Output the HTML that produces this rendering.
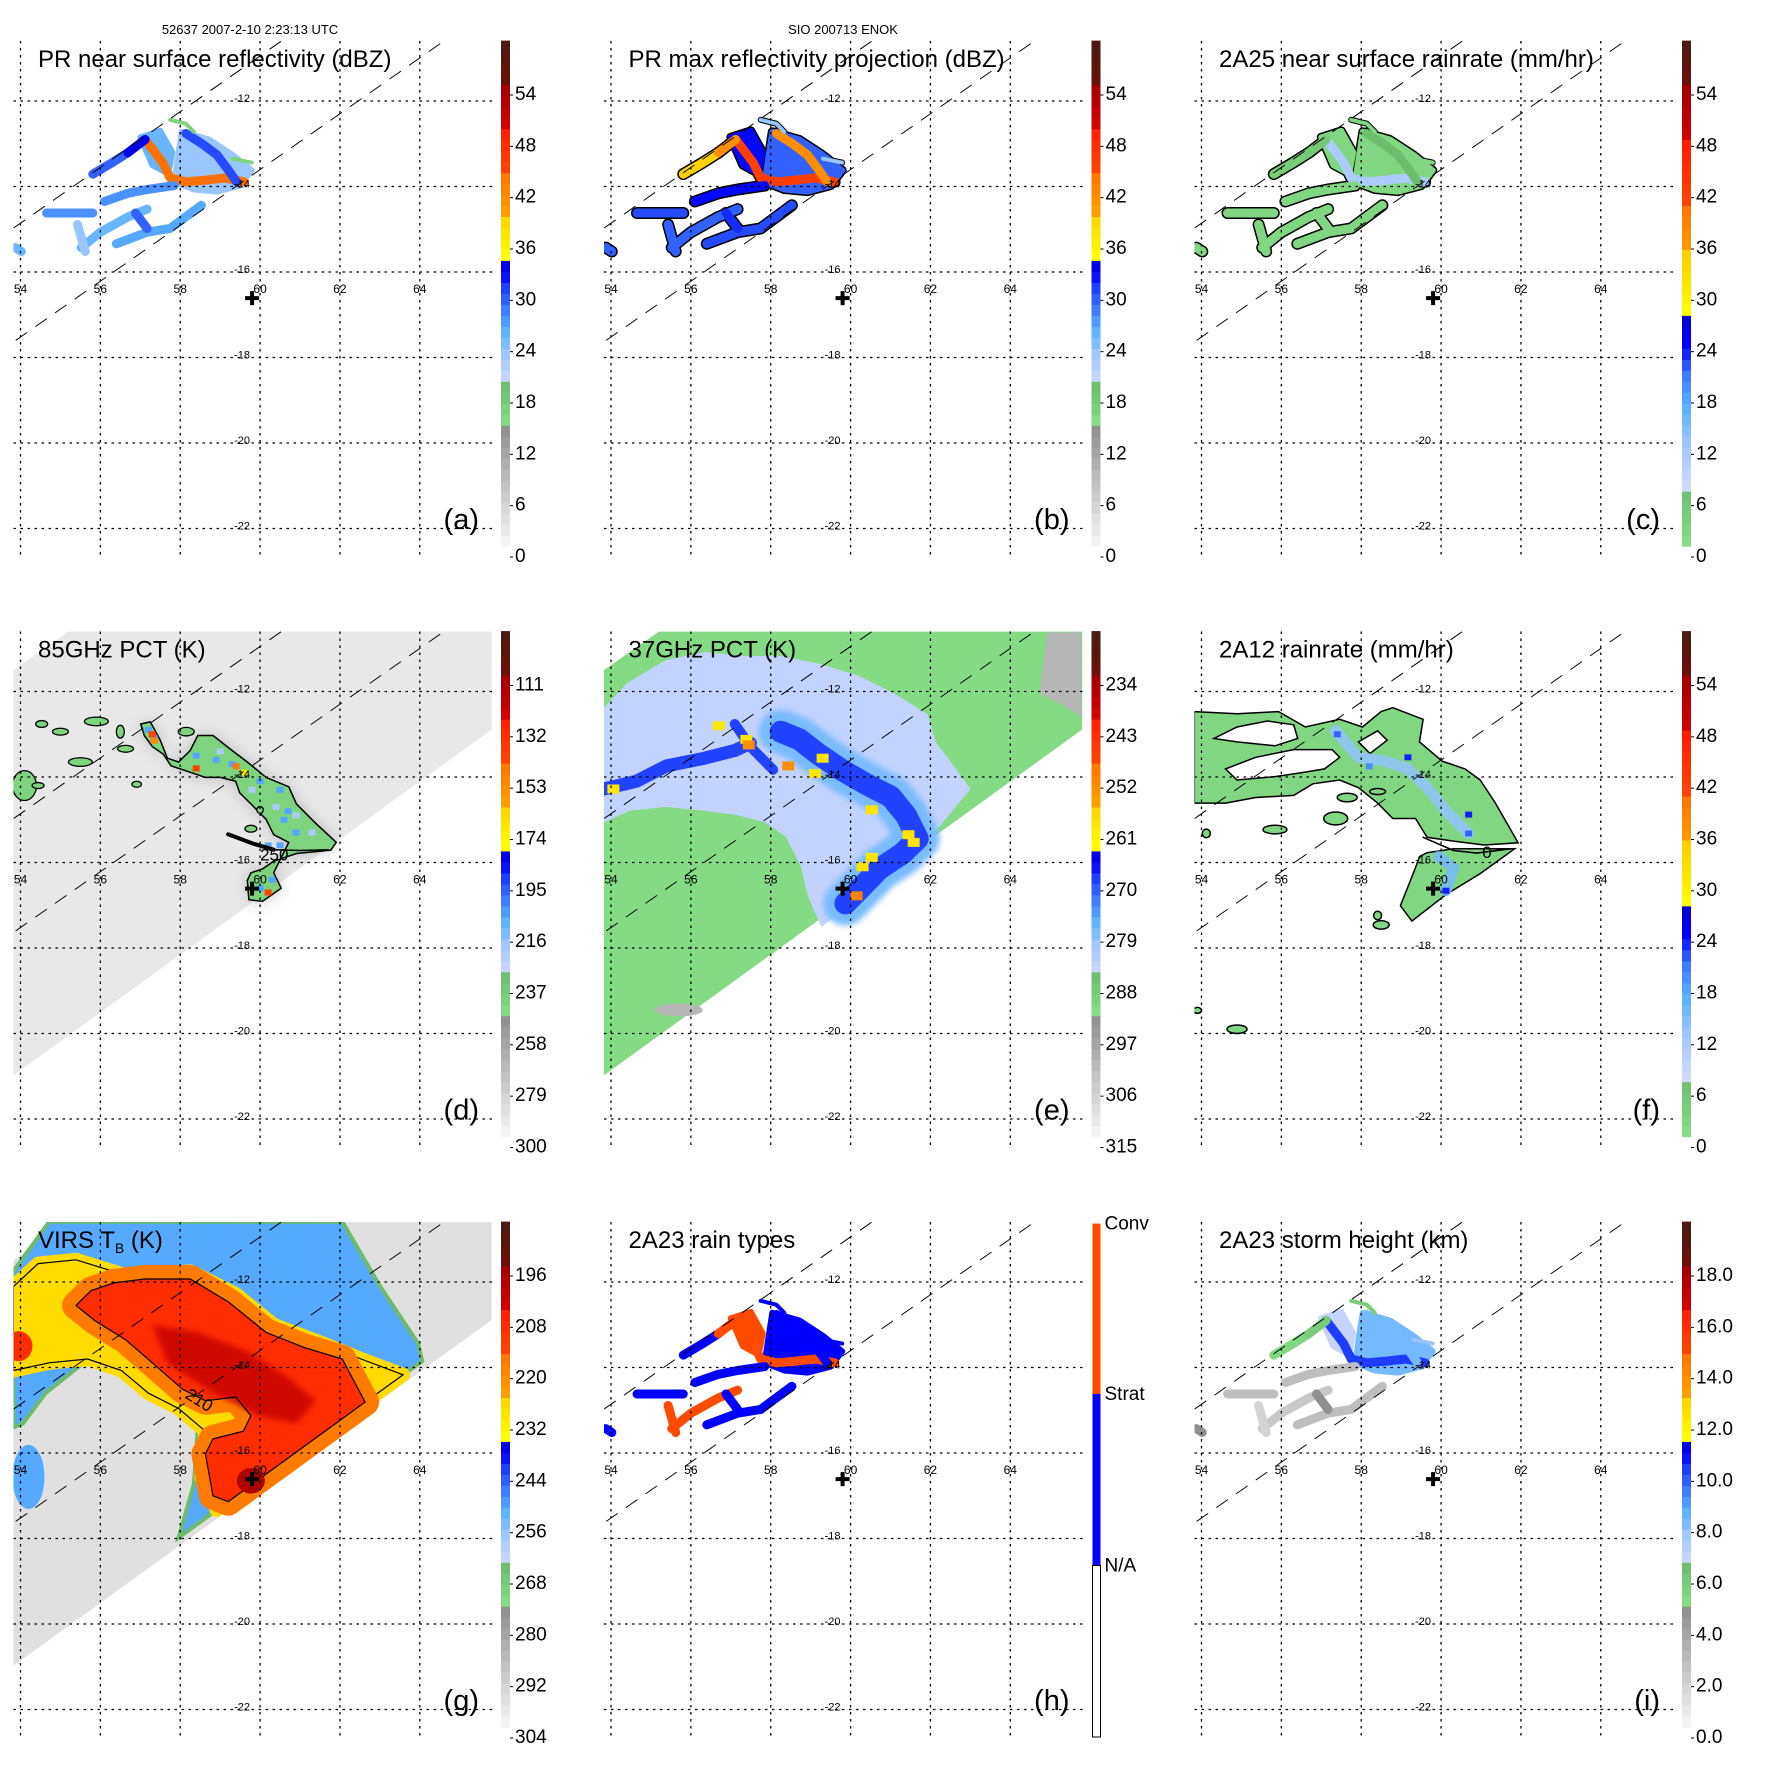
<!DOCTYPE html>
<html>
<head>
<meta charset="utf-8">
<style>
html,body{margin:0;padding:0;background:#fff;}
svg{display:block;font-family:"Liberation Sans",Arial,sans-serif;}
</style>
</head>
<body>
<svg id="fig" width="1771" height="1771" viewBox="0 0 1771 1771" xmlns="http://www.w3.org/2000/svg">
<defs>
<filter id="blur8" x="-20%" y="-20%" width="140%" height="140%"><feGaussianBlur stdDeviation="8"/></filter>
<filter id="blur3" x="-20%" y="-20%" width="140%" height="140%"><feGaussianBlur stdDeviation="3"/></filter>
</defs>
<rect width="1771" height="1771" fill="#fff"/>
<text x="250" y="34" font-size="13" text-anchor="middle">52637 2007-2-10 2:23:13 UTC</text>
<text x="843" y="34" font-size="13" text-anchor="middle">SIO 200713 ENOK</text>
</svg>
<script>
// ---------------- data ----------------
const gridLons=[54,56,58,60,62,64];
const gridLats=[-12,-14,-16,-18,-20,-22];
const swathLine1=[[53.83,-14.97],[60.53,-10.6]];
const swathLine2=[[53.88,-17.6],[64.6,-10.6]];
const stormCenter=[59.8,-16.61];

const labA=['54','48','42','36','30','24','18','12','6','0'];
const labB=['54','48','42','36','30','24','18','12','6','0'];
const labC=['54','48','42','36','30','24','18','12','6','0'];
const labD=['111','132','153','174','195','216','237','258','279','300'];
const labE=['234','243','252','261','270','279','288','297','306','315'];
const labF=['54','48','42','36','30','24','18','12','6','0'];
const labG=['196','208','220','232','244','256','268','280','292','304'];
const labI=['18.0','16.0','14.0','12.0','10.0','8.0','6.0','4.0','2.0','0.0'];
const rainTypeLabels=['Conv','Strat','N/A'];

// PR swath features (lon,lat)
const prTracks=[
 [[57.12,-12.90],[57.56,-13.44],[57.75,-13.80],[58.14,-13.89],[58.63,-13.85],[59.11,-13.80],[59.60,-13.89]],
 [[58.14,-12.76],[58.53,-12.99],[58.92,-13.26],[59.21,-13.62],[59.41,-13.89]],
 [[55.81,-13.71],[56.30,-13.44],[56.69,-13.21]],
 [[56.69,-13.21],[57.12,-12.90]],
 [[56.10,-14.35],[56.69,-14.16],[57.17,-14.07],[57.85,-13.98]],
 [[54.65,-14.62],[55.13,-14.62],[55.81,-14.62]],
 [[55.52,-15.43],[56.0,-15.07],[56.69,-14.71],[57.17,-14.53]],
 [[56.40,-15.34],[57.17,-15.07],[57.75,-14.98],[58.53,-14.44]],
 [[55.43,-14.89],[55.62,-15.52]],
 [[56.88,-14.62],[57.17,-14.98]],
 [[53.87,-15.43],[54.02,-15.52]],
 [[57.75,-12.44],[58.14,-12.53],[58.34,-12.72]],
 [[59.31,-13.35],[59.79,-13.44]]
];
const prCells=[
 [[58.04,-12.72],[58.72,-12.90],[59.31,-13.26],[59.79,-13.62],[59.50,-13.98],[58.92,-14.12],[58.34,-14.07],[57.85,-13.89],[57.95,-13.26]],
 [[57.0,-12.85],[57.5,-12.7],[57.8,-13.2],[57.7,-13.7],[57.3,-13.5]]
];
const aTrackVals=[45,31,30,34,28,28,26,27,24,30,26,17,17];
const aCellVals=[24,26];
const bTrackVals=[46,42,40,42,33,31,30,31,30,32,30,24,24];
const bCellVals=[30,33];
const cTrackVals=[12,8,5,6,3,3,3,3,3,3,3,3,3];
const cCellVals=[3,3];
const hTrackTypes=[2,1,1,2,1,1,2,1,2,1,1,1,1];
const hCellTypes=[1,2];
const iTrackVals=[10.5,8.5,5.5,6,3,3,2.5,3,2,5,5,6,8];
const iCellVals=[8.5,7];

// TMI swath outline
const tmiSwath=[[53.82,-11.5],[55.2,-10.6],[65.8,-10.6],[65.8,-12.89],[53.82,-20.98]];

// panel d: 85 GHz
const dSwathVal=288;
const dArc=[[57.01,-12.76],[57.25,-12.71],[57.49,-13.12],[57.68,-13.56],[57.96,-13.65],[58.25,-13.38],[58.44,-13.03],[58.82,-13.03],[59.30,-13.38],[59.68,-13.65],[60.15,-14.01],[60.72,-14.23],[60.91,-14.63],[61.39,-15.08],[61.91,-15.53],[61.77,-15.71],[60.91,-15.79],[60.34,-15.97],[60.06,-16.15],[59.77,-16.24],[59.68,-16.42],[59.72,-16.87],[60.06,-16.91],[60.53,-16.60],[60.34,-16.24],[60.53,-15.88],[60.72,-15.53],[60.34,-15.35],[60.15,-14.99],[59.77,-14.63],[59.49,-14.37],[59.39,-14.10],[59.01,-14.01],[58.63,-14.01],[58.06,-13.83],[57.77,-13.74],[57.58,-13.47],[57.30,-13.29],[57.10,-13.03]];
const dArcVal=240;
const dIslands=[[54.1,-14.2,0.3,0.35],[55.9,-12.7,0.3,0.1],[54.53,-12.76,0.15,0.08],[55.0,-12.94,0.2,0.08],[55.5,-13.65,0.3,0.1],[56.5,-12.94,0.1,0.15],[56.63,-13.34,0.2,0.08],[56.91,-14.17,0.12,0.07],[58.15,-12.94,0.2,0.1],[59.77,-15.21,0.15,0.08],[60.0,-14.77,0.08,0.08],[54.44,-14.2,0.15,0.07]];
const dIslandVal=240;
const dSpots=[[57.2,-12.9,205],[57.35,-13.1,205],[58.4,-13.5,205],[58.9,-13.6,205],[59.3,-13.7,205],[60.0,-14.1,205],[60.5,-14.3,205],[60.7,-14.8,205],[60.6,-15.0,205],[60.9,-15.3,205],[61.3,-15.3,220],[60.2,-15.6,205],[60.5,-15.6,205],[60.3,-16.4,205],[60.0,-16.6,205],[57.3,-13.0,140],[57.35,-13.15,150],[58.4,-13.8,140],[59.4,-13.75,145],[60.2,-16.7,140],[59.6,-13.9,170],[59.0,-13.4,220],[59.8,-14.3,220],[60.4,-14.7,220],[60.9,-14.9,220]];
const dLine=[[59.2,-15.34],[59.8,-15.55],[60.34,-15.7],[61.0,-15.72],[61.7,-15.7]];

// panel e: 37 GHz
const eSwathVal=291;
const eLight=[[53.82,-12.49],[54.44,-11.87],[55.39,-11.33],[56.34,-11.15],[57.30,-11.24],[58.25,-11.24],[59.20,-11.42],[60.15,-11.69],[61.10,-12.13],[61.87,-12.58],[62.06,-13.21],[62.63,-13.92],[62.91,-14.28],[61.87,-15.44],[59.30,-17.40],[59.01,-16.78],[58.82,-16.06],[58.44,-15.35],[57.87,-14.99],[57.10,-14.81],[56.34,-14.72],[55.39,-14.63],[54.44,-14.72],[53.82,-14.99]];
const eLightVal=283;
const eMainBand=[[58.25,-12.94],[58.72,-13.12],[59.20,-13.47],[59.77,-13.83],[60.44,-14.19],[61.01,-14.46],[61.39,-14.90],[61.68,-15.44],[61.30,-15.79],[60.72,-16.15],[60.25,-16.60],[59.87,-16.96]];
const eLeftBand=[[53.82,-14.28],[54.63,-14.10],[55.39,-13.74],[56.34,-13.56],[57.10,-13.38],[57.49,-13.21]];
const eLinkBand=[[57.10,-12.76],[57.5,-13.3],[58.06,-13.83]];
const eBandVals=[277,268];
const eSpots=[[57.39,-13.12,258],[57.45,-13.25,252],[58.44,-13.74,252],[59.11,-13.92,258],[59.30,-13.56,258],[60.53,-14.77,258],[61.58,-15.53,258],[61.45,-15.35,258],[60.53,-15.88,258],[60.3,-16.1,258],[54.06,-14.28,258],[60.15,-16.78,250],[56.7,-12.8,258]];
const eGray=[[64.92,-10.62],[65.78,-10.62],[65.78,-12.58],[65.3,-12.31],[64.73,-12.04]];
const eGrayBlob=[55.7,-19.45];
const eGrayVal=300;

// panel f: 2A12
const fRain=[[53.82,-12.47],[54.89,-12.52],[55.93,-12.47],[56.60,-12.83],[57.46,-12.65],[58.03,-12.83],[58.50,-12.47],[58.79,-12.38],[59.55,-12.65],[59.46,-13.18],[60.03,-13.63],[60.60,-13.81],[60.98,-14.07],[61.36,-14.61],[61.74,-15.23],[61.93,-15.54],[61.08,-15.59],[60.31,-15.50],[59.65,-15.41],[59.36,-14.97],[58.79,-14.97],[58.41,-14.61],[57.93,-14.25],[57.46,-14.07],[56.79,-14.16],[56.31,-14.43],[55.36,-14.48],[54.60,-14.61],[53.82,-14.61]];
const fArm=[[59.65,-15.77],[60.31,-15.68],[61.84,-15.68],[60.98,-16.26],[60.12,-16.75],[59.27,-17.37],[58.98,-17.01],[59.17,-16.57],[59.36,-16.12],[59.46,-15.86]];
const fHoles=[
 [[54.60,-13.81],[55.36,-13.54],[56.31,-13.36],[57.27,-13.36],[57.46,-13.54],[57.08,-13.81],[56.50,-13.90],[55.84,-13.99],[54.89,-14.07]],
 [[54.89,-12.83],[55.65,-12.69],[56.31,-12.78],[56.41,-13.10],[55.84,-13.27],[54.89,-13.18],[54.31,-13.10]],
 [[57.93,-13.18],[58.41,-12.92],[58.65,-13.14],[58.22,-13.45]]
];
const fRainVal=3;
const fIslands=[[54.12,-15.32,0.1,0.1],[55.84,-15.23,0.3,0.1],[57.36,-14.97,0.3,0.15],[57.65,-14.48,0.25,0.1],[58.41,-14.34,0.2,0.07],[58.50,-17.46,0.2,0.1],[58.41,-17.24,0.1,0.1],[54.89,-19.9,0.25,0.1],[53.9,-19.46,0.1,0.07]];
const fBlueTracks=[
 [[57.36,-12.92],[57.93,-13.54],[58.60,-13.63],[59.17,-13.81],[59.65,-14.25],[60.12,-14.79],[60.69,-15.32]],
 [[59.93,-15.86],[60.31,-16.12],[60.12,-16.66]]
];
const fBlueVals=[14,16];
const fSpots=[[59.17,-13.54,24],[60.69,-14.88,24],[60.69,-15.32,22],[60.12,-16.66,24],[57.4,-13.0,22],[58.2,-13.75,20]];
const fZeroLine=[[59.55,-15.41],[60.31,-15.72],[60.89,-15.78],[61.74,-15.68]];

// panel g: VIRS
const gSwathVal=295;
const gBlue=[[53.82,-11.75],[54.72,-10.59],[62.06,-10.59],[63.01,-12.11],[63.96,-13.44],[64.06,-13.85],[57.96,-17.98],[58.34,-16.74],[58.44,-15.40],[57.58,-14.24],[56.63,-13.80],[55.58,-13.89],[54.63,-14.60],[54.06,-15.31],[53.82,-15.40]];
const gBlueBlob=[54.2,-16.56];
const gYellow=[[53.82,-12.11],[54.44,-11.57],[55.39,-11.48],[56.63,-11.84],[58.25,-11.75],[59.39,-12.28],[60.34,-13.00],[61.58,-13.44],[62.53,-13.80],[63.58,-14.17],[58.91,-17.33],[58.53,-16.56],[58.63,-15.49],[57.96,-14.96],[57.20,-14.60],[56.53,-14.07],[55.68,-13.80],[54.72,-13.89],[53.82,-14.07]];
const gRed=[[56.34,-12.02],[57.10,-11.93],[58.25,-11.93],[59.20,-12.46],[60.15,-13.18],[61.10,-13.53],[62.06,-13.80],[62.63,-14.81],[59.20,-17.14],[58.82,-17.00],[58.63,-16.02],[58.82,-15.67],[59.58,-15.49],[59.77,-15.13],[59.39,-14.69],[58.63,-14.78],[58.06,-14.51],[57.30,-13.89],[56.63,-13.35],[55.87,-12.91],[55.39,-12.55],[55.77,-12.20]];
const gCore=[[57.30,-13.00],[58.44,-13.18],[59.68,-13.62],[60.72,-14.24],[61.39,-14.78],[60.91,-15.31],[59.96,-15.13],[58.82,-14.60],[57.68,-13.89]];
const gEye=[59.77,-16.65];
const gRedBlob=[53.95,-13.5];
const gVals=[250,226,216,208,200,196];

// ---------------- layout / styles ----------------
const NS='http://www.w3.org/2000/svg';
const svg=document.getElementById('fig');
const PITCH=590.5;
const CB_TOP=40.6, CB_BOT=546, CB_X=501, CB_W=9;
const LBL_Y0=95, LBL_Y1=557;
function X(lon){return 20.5+(lon-54)*39.93;}
function Y(lat){return 101+(-12-lat)*42.75;}
function pts(arr){return arr.map(p=>X(p[0]).toFixed(1)+','+Y(p[1]).toFixed(1)).join(' ');}

const STOPS_DBZ=[[0,'#f8f8f8'],[0.237,'#8e8e8e'],[0.238,'#88e088'],[0.321,'#6cbc6c'],[0.322,'#d0d8ff'],[0.38,'#a0c8ff'],[0.43,'#58b0ff'],[0.47,'#4078ff'],[0.51,'#2040ff'],[0.54,'#0000ff'],[0.574,'#0000c8'],[0.575,'#ffff00'],[0.658,'#ffd000'],[0.659,'#ffa000'],[0.743,'#ff7000'],[0.744,'#ff4400'],[0.827,'#ff1c00'],[0.828,'#d80000'],[0.915,'#a00000'],[0.916,'#6a1008'],[1,'#4a1a14']];
const STOPS_RAIN=[[0,'#88e088'],[0.118,'#6cbc6c'],[0.119,'#d0d8ff'],[0.2,'#a0c8ff'],[0.28,'#58b0ff'],[0.34,'#4078ff'],[0.4,'#0000ff'],[0.458,'#0000c8'],[0.459,'#ffff00'],[0.577,'#ffd000'],[0.578,'#ffa000'],[0.678,'#ff7000'],[0.679,'#ff4400'],[0.795,'#ff1c00'],[0.796,'#d80000'],[0.916,'#a00000'],[0.917,'#6a1008'],[1,'#4a1a14']];
const TYPE_COLORS={1:'#0000ff',2:'#ff4a00'};

function hex(c){return [parseInt(c.substr(1,2),16),parseInt(c.substr(3,2),16),parseInt(c.substr(5,2),16)];}
function colorAt(stops,f){
  f=Math.max(0,Math.min(1,f));
  for(let i=0;i<stops.length-1;i++){
    const a=stops[i],b=stops[i+1];
    if(f>=a[0]&&f<=b[0]){
      const t=b[0]===a[0]?0:(f-a[0])/(b[0]-a[0]);
      const ca=hex(a[1]),cb=hex(b[1]);
      return 'rgb('+ca.map((v,k)=>Math.round(v+(cb[k]-v)*t)).join(',')+')';
    }
  }
  return stops[stops.length-1][1];
}
function valColor(p,v){
  const a=parseFloat(p.labels[0]),b=parseFloat(p.labels[p.labels.length-1]);
  const y=LBL_Y0+(v-a)/(b-a)*(LBL_Y1-LBL_Y0);
  return colorAt(p.stops,(CB_BOT-y)/(CB_BOT-CB_TOP));
}
function mk(tag,parent){const e=document.createElementNS(NS,tag);parent.appendChild(e);return e;}
function sa(e,o){for(const k in o)e.setAttribute(k,o[k]);return e;}

// ---------------- drawing helpers ----------------
function drawPR(g,p,trackVals,cellVals,outline,colorFn){
  if(outline){
    prCells.forEach((c,i)=>{
      const e=mk('polygon',g);
      
      
      sa(e,{points:pts(c),fill:'none',stroke:'#000','stroke-width':9,'stroke-linejoin':'round'});
    });
    prTracks.forEach((t,i)=>{
      const e=mk('polyline',g);
      
      
      sa(e,{points:pts(t),fill:'none',stroke:'#000','stroke-width':i>=11?6:12,'stroke-linecap':'round','stroke-linejoin':'round'});
    });
  }
  prCells.forEach((c,i)=>{
    const e=mk('polygon',g);
    
    
    sa(e,{points:pts(c),fill:colorFn(cellVals[i]),stroke:colorFn(cellVals[i]),'stroke-width':6,'stroke-linejoin':'round'});
  });
  prTracks.forEach((t,i)=>{
    const e=mk('polyline',g);
    
    
    sa(e,{points:pts(t),fill:'none',stroke:colorFn(trackVals[i]),'stroke-width':i>=11?4:9,'stroke-linecap':'round','stroke-linejoin':'round'});
  });
}
function poly(g,arr,fill,name,extra){
  const e=mk('polygon',g);
  
  
  sa(e,Object.assign({points:pts(arr),fill:fill},extra||{}));
  return e;
}
function line(g,arr,stroke,w,name,extra){
  const e=mk('polyline',g);
  
  
  sa(e,Object.assign({points:pts(arr),fill:'none',stroke:stroke,'stroke-width':w,'stroke-linecap':'round','stroke-linejoin':'round'},extra||{}));
  return e;
}
function ell(g,c,rx,ry,fill,name,extra){
  const e=mk('ellipse',g);
  
  
  sa(e,Object.assign({cx:X(c[0]),cy:Y(c[1]),rx:rx*39.93,ry:ry*42.75,fill:fill},extra||{}));
  return e;
}
function spot(g,s,fill,w,h){
  const e=mk('rect',g);
  
  
  sa(e,{x:X(s[0])-w/2,y:Y(s[1])-h/2,width:w,height:h,fill:fill});
}

// ---------------- panel content ----------------
const drawers={
 a:(g,p)=>drawPR(g,p,aTrackVals,aCellVals,false,v=>valColor(p,v)),
 b:(g,p)=>drawPR(g,p,bTrackVals,bCellVals,true,v=>valColor(p,v)),
 c:(g,p)=>drawPR(g,p,cTrackVals,cCellVals,true,v=>valColor(p,v)),
 h:(g,p)=>drawPR(g,p,hTrackTypes,hCellTypes,false,v=>TYPE_COLORS[v]),
 i:(g,p)=>drawPR(g,p,iTrackVals,iCellVals,false,v=>valColor(p,v)),
 d:(g,p)=>{
   poly(g,tmiSwath,valColor(p,dSwathVal),'tmi-swath');
   poly(g,dArc,'#9a9a9a','cold-haze',{filter:'url(#blur8)',opacity:0.6});
   poly(g,dArc,valColor(p,dArcVal),'rainband-arc',{stroke:'#000','stroke-width':1.5});
   dIslands.forEach(s=>ell(g,s,s[2],s[3],valColor(p,dIslandVal),'rain-island',{stroke:'#000','stroke-width':1.3}));
   dSpots.forEach(s=>spot(g,s,valColor(p,s[2]),7,6));
   line(g,dLine.slice(0,3),'#000',4,'contour-250');
   line(g,dLine.slice(2),'#000',1.5,'contour-250-tail');
   const t=mk('text',g);
   
   
   sa(t,{x:X(60.0),y:Y(-15.95),'font-size':17});t.textContent='250';
 },
 e:(g,p)=>{
   poly(g,tmiSwath,valColor(p,eSwathVal),'tmi-swath');
   poly(g,eGray,valColor(p,eGrayVal),'warm-patch');
   ell(g,eGrayBlob,0.6,0.15,valColor(p,eGrayVal),'warm-patch');
   poly(g,eLight,valColor(p,eLightVal),'scattering-region',{stroke:valColor(p,eLightVal),'stroke-width':6});
   line(g,eMainBand,valColor(p,eBandVals[0]),44,'scattering-band-halo',{filter:'url(#blur3)'});
   line(g,eMainBand,valColor(p,eBandVals[1]),22,'scattering-band');
   line(g,eLeftBand,valColor(p,eBandVals[1]),13,'scattering-band-left');
   line(g,eLinkBand,valColor(p,eBandVals[1]),10,'scattering-band-link');
   eSpots.forEach(s=>spot(g,s,valColor(p,s[2]),12,9));
 },
 f:(g,p)=>{
   const gc=valColor(p,fRainVal);
   poly(g,fRain,gc,'rain-area',{stroke:'#000','stroke-width':1.5});
   poly(g,fArm,gc,'rain-arm',{stroke:'#000','stroke-width':1.5});
   fHoles.forEach(h=>poly(g,h,'#fff','rain-free-hole',{stroke:'#000','stroke-width':1.5}));
   fIslands.forEach(s=>ell(g,s,s[2],s[3],gc,'rain-island',{stroke:'#000','stroke-width':1.5}));
   fBlueTracks.forEach((t,i)=>line(g,t,valColor(p,fBlueVals[i]),11,'heavy-rain-band',{opacity:0.85}));
   fSpots.forEach(s=>spot(g,s,valColor(p,s[2]),7,6));
   line(g,fZeroLine,'#000',1.6,'contour-zero');
   const t=mk('text',g);
   
   
   sa(t,{x:X(61.15),y:Y(-15.9),'font-size':17,'text-anchor':'middle'});t.textContent='0';
 },
 g:(g,p)=>{
   poly(g,tmiSwath,valColor(p,gSwathVal),'virs-swath');
   poly(g,gBlue,valColor(p,gVals[0]),'cloud-shield-outer',{stroke:'#6cbc6c','stroke-width':4});
   ell(g,gBlueBlob,0.4,0.75,valColor(p,gVals[0]),'cloud-patch');
   poly(g,gYellow,valColor(p,gVals[1]),'cloud-shield-mid',{stroke:valColor(p,gVals[1]),'stroke-width':14,'stroke-linejoin':'round'});
   poly(g,gYellow,'none','contour-outer',{stroke:'#000','stroke-width':1.2});
   poly(g,gRed,valColor(p,gVals[2]),'cloud-shield-orange-rim',{stroke:valColor(p,gVals[2]),'stroke-width':28,'stroke-linejoin':'round'});
   poly(g,gRed,valColor(p,gVals[3]),'cloud-shield-cold');
   ell(g,gRedBlob,0.35,0.35,valColor(p,gVals[3]),'cold-cloud-patch');
   poly(g,gCore,valColor(p,gVals[4]),'cloud-core',{filter:'url(#blur3)',opacity:0.8});
   poly(g,gRed,'none','contour-210',{stroke:'#000','stroke-width':1.2});
   ell(g,gEye,0.35,0.3,valColor(p,gVals[5]),'eyewall-core');
   const t=mk('text',g);
   
   
   sa(t,{x:X(58.1),y:Y(-14.7),'font-size':17,transform:'rotate(32 '+X(58.1)+' '+Y(-14.7)+')'});t.textContent='210';
 }
};

const panels=[
 {id:'a',col:0,row:0,title:'PR near surface reflectivity (dBZ)',letter:'(a)',labels:labA,stops:STOPS_DBZ},
 {id:'b',col:1,row:0,title:'PR max reflectivity projection (dBZ)',letter:'(b)',labels:labB,stops:STOPS_DBZ},
 {id:'c',col:2,row:0,title:'2A25 near surface rainrate (mm/hr)',letter:'(c)',labels:labC,stops:STOPS_RAIN},
 {id:'d',col:0,row:1,title:'85GHz PCT (K)',letter:'(d)',labels:labD,stops:STOPS_DBZ},
 {id:'e',col:1,row:1,title:'37GHz PCT (K)',letter:'(e)',labels:labE,stops:STOPS_DBZ},
 {id:'f',col:2,row:1,title:'2A12 rainrate (mm/hr)',letter:'(f)',labels:labF,stops:STOPS_RAIN},
 {id:'g',col:0,row:2,title:'VIRS T',sub:'B',titleEnd:' (K)',letter:'(g)',labels:labG,stops:STOPS_DBZ},
 {id:'h',col:1,row:2,title:'2A23 rain types',letter:'(h)',labels:null,stops:null},
 {id:'i',col:2,row:2,title:'2A23 storm height (km)',letter:'(i)',labels:labI,stops:STOPS_DBZ}
];

panels.forEach(p=>{
  const G=mk('g',svg);
  
  
  G.setAttribute('transform','translate('+(p.col*PITCH)+','+(p.row*PITCH)+')');

  const cp=mk('clipPath',G);
  cp.setAttribute('id','clip-'+p.id);
  const cr=mk('rect',cp);
  sa(cr,{x:13.5,y:41,width:478.5,height:514});

  const plot=mk('g',G);
  
  
  plot.setAttribute('clip-path','url(#clip-'+p.id+')');

  drawers[p.id](plot,p);

  gridLons.forEach(lon=>{
    const l=mk('line',plot);
    
    
    sa(l,{x1:X(lon),x2:X(lon),y1:41,y2:555,stroke:'#000','stroke-width':1.3,'stroke-dasharray':'2.5,4.5'});
  });
  gridLats.forEach(lat=>{
    const l=mk('line',plot);
    
    
    sa(l,{x1:13.5,x2:492,y1:Y(lat),y2:Y(lat),stroke:'#000','stroke-width':1.3,'stroke-dasharray':'2.5,4.5'});
  });
  [swathLine1,swathLine2].forEach(s=>{
    const l=mk('line',plot);
    
    
    sa(l,{x1:X(s[0][0]),y1:Y(s[0][1]),x2:X(s[1][0]),y2:Y(s[1][1]),stroke:'#000','stroke-width':1,'stroke-dasharray':'14,10'});
  });
  gridLats.forEach(lat=>{
    const t=mk('text',G);
    
    
    sa(t,{x:250,y:Y(lat)+1,'font-size':11,'text-anchor':'end'});
    t.textContent=String(lat);
  });
  gridLons.forEach(lon=>{
    const t=mk('text',G);
    
    
    sa(t,{x:X(lon),y:293,'font-size':12,'text-anchor':'middle'});
    t.textContent=String(lon);
  });
  const cx=X(stormCenter[0]),cy=Y(stormCenter[1]);
  const cross=mk('path',G);
  
  
  sa(cross,{d:'M'+(cx-7)+','+cy+'H'+(cx+7)+'M'+cx+','+(cy-7)+'V'+(cy+7),stroke:'#000','stroke-width':4});

  const tt=mk('text',G);
  
  
  sa(tt,{x:38,y:67,'font-size':24});
  tt.textContent=p.title;
  if(p.sub){
    const ts=mk('tspan',tt);
    sa(ts,{'font-size':14,dy:5});ts.textContent=p.sub;
    const te=mk('tspan',tt);
    sa(te,{dy:-5});te.textContent=p.titleEnd;
  }
  const lt=mk('text',G);
  
  
  sa(lt,{x:479,y:529,'font-size':29,'text-anchor':'end'});
  lt.textContent=p.letter;

  const cb=mk('g',G);
  
  
  if(p.labels){
    const N=46,h=(CB_BOT-CB_TOP)/N;
    for(let k=0;k<N;k++){
      const r=mk('rect',cb);
      
      
      sa(r,{x:CB_X,y:(CB_BOT-(k+1)*h).toFixed(2),width:CB_W,height:(h+0.6).toFixed(2),fill:colorAt(p.stops,(k+0.5)/N)});
    }
    p.labels.forEach((lab,i)=>{
      const y=LBL_Y0+i*(LBL_Y1-LBL_Y0)/(p.labels.length-1);
      const tk=mk('line',cb);
      
      
      sa(tk,{x1:CB_X+CB_W,x2:CB_X+CB_W+3,y1:y,y2:y,stroke:'#000','stroke-width':1});
      const t=mk('text',cb);
      
      
      sa(t,{x:CB_X+CB_W+5,y:y+5,'font-size':19});
      t.textContent=lab;
    });
  } else {
    const segs=[[42.6,213,TYPE_COLORS[2]],[213,384.5,TYPE_COLORS[1]],[384.5,556,'#fff']];
    segs.forEach(s=>{
      const r=mk('rect',cb);
      
      
      sa(r,{x:502,y:s[0],width:8,height:s[1]-s[0],fill:s[2]});
    });
    const fr=mk('rect',cb);
    
    
    sa(fr,{x:502,y:384.5,width:8,height:171.5,fill:'none',stroke:'#000','stroke-width':1});
    [42.6,213,384.5].forEach((y,i)=>{
      const t=mk('text',cb);
      
      
      sa(t,{x:514,y:y+6,'font-size':19});
      t.textContent=rainTypeLabels[i];
    });
  }
});
</script>
</body>
</html>
